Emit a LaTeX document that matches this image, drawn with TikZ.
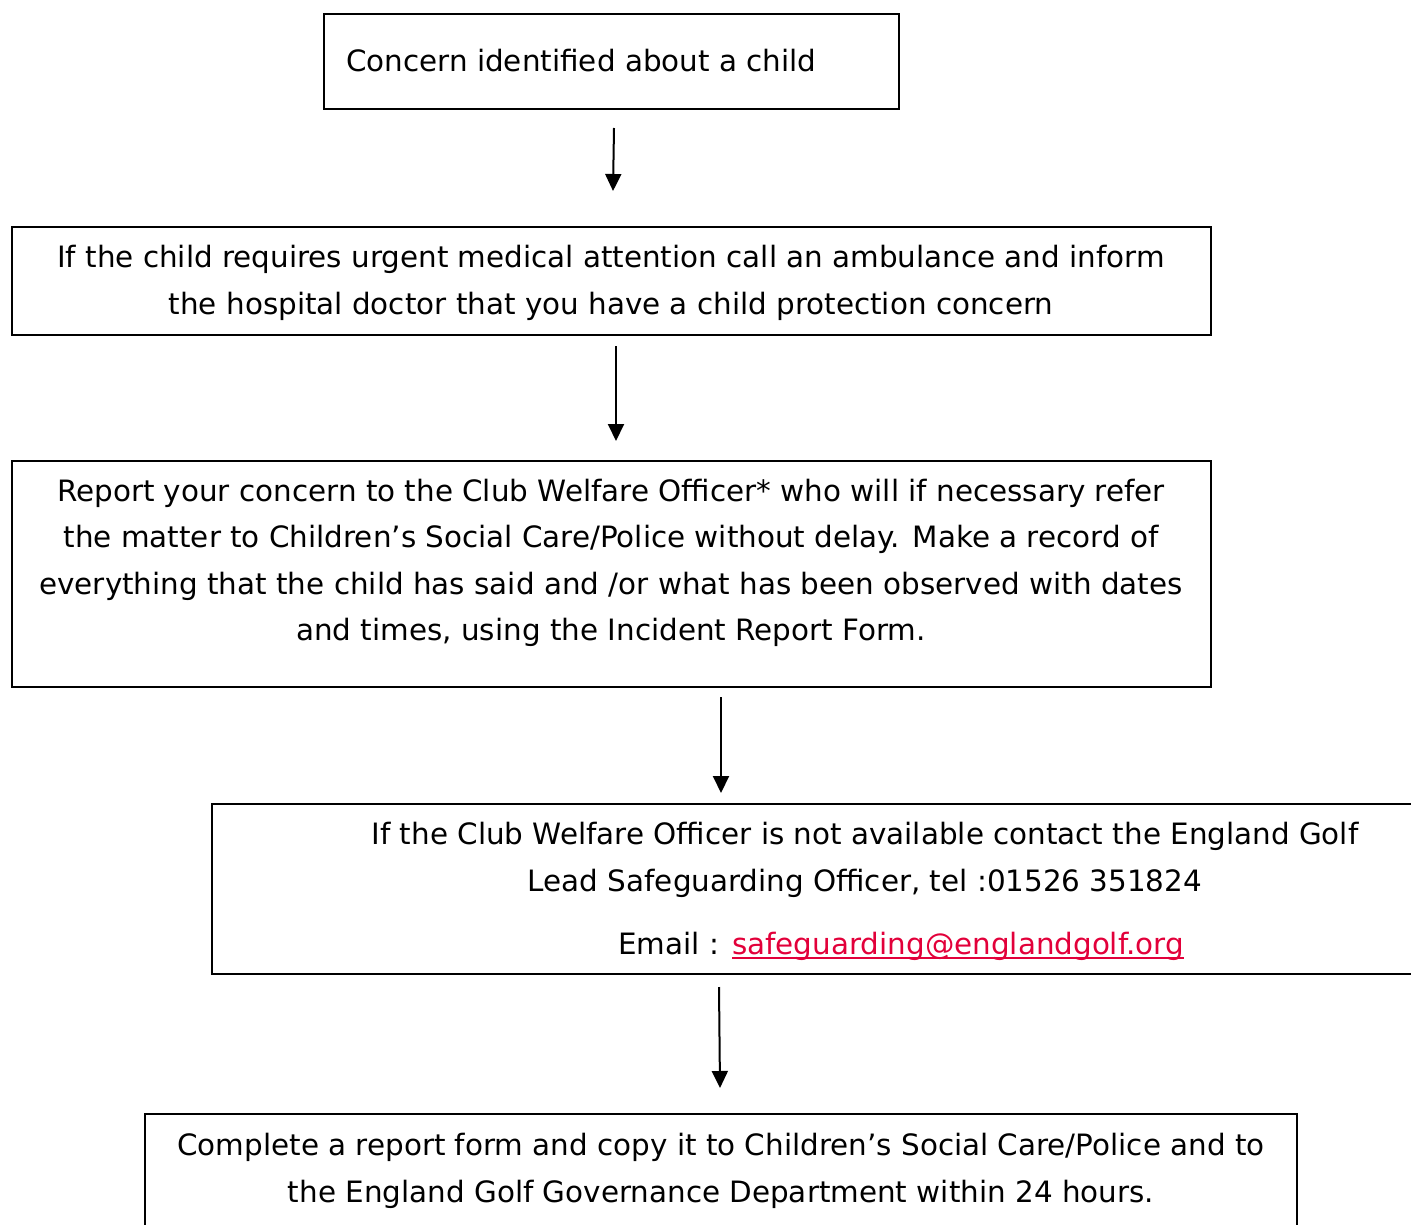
\documentclass[tikz,border=0pt]{standalone}
\usepackage{fontspec}
\setmainfont{DejaVu Sans}
\usetikzlibrary{arrows.meta}
\definecolor{linkred}{RGB}{226,0,58}
\begin{document}
\begin{tikzpicture}[x=1pt,y=-1pt,
  box/.style={draw,line width=2.3pt,rectangle,inner sep=0pt},
  txt/.style={inner sep=0pt,align=center,font=\fontsize{29.4}{46.5}\selectfont},
  arr/.style={line width=2pt,-{Triangle[length=17pt,width=16pt]}}]
\useasboundingbox (0,0) rectangle (1411,1225);
\clip (0,0) rectangle (1411,1225);
% boxes
\node[box,minimum width=575pt,minimum height=95pt] (b1) at (611.5,61.5) {};
\node[box,minimum width=1199pt,minimum height=108pt] (b2) at (611.5,281) {};
\node[box,minimum width=1199pt,minimum height=226pt] (b3) at (611.5,574) {};
\node[box,minimum width=1218pt,minimum height=170pt] (b4) at (821,889) {};
\node[box,minimum width=1152pt,minimum height=136pt] (b5) at (721,1182) {};
% texts
\node[txt,anchor=base west] (t1) at (346,72) {Concern identified about a child};
\node[txt] (t2) at (611,283) {If the child requires urgent medical attention call an ambulance and inform\\the hospital doctor that you have a child protection concern};
\node[txt] (t3) at (611,563) {Report your concern to the Club Welfare Officer* who will if necessary refer\\the matter to Children’s Social Care/Police without delay. Make a record of\\everything that the child has said and /or what has been observed with dates\\and times, using the Incident Report Form.};
\node[txt] (t4) at (865,860) {If the Club Welfare Officer is not available contact the England Golf\\Lead Safeguarding Officer, tel :01526 351824};
\node[txt,anchor=base west] (t4b) at (618,954) {Email :};
\node[txt,anchor=base west,text=linkred] (lnk) at (732,954) {safeguarding@englandgolf.org};
\draw[linkred,line width=2pt] ([yshift=-4pt]lnk.base west) -- ([yshift=-4pt]lnk.base east);
\node[txt] (t5) at (721,1171) {Complete a report form and copy it to Children’s Social Care/Police and to\\the England Golf Governance Department within 24 hours.};
% connectors
\coordinate (a1s) at (614,128); \coordinate (a1e) at (613,191);
\coordinate (a2s) at (616,346); \coordinate (a2e) at (616,441);
\coordinate (a3s) at (721,697); \coordinate (a3e) at (721,793);
\coordinate (a4s) at (719,987); \coordinate (a4e) at (720,1088);
\draw[arr] (a1s) -- (a1e);
\draw[arr] (a2s) -- (a2e);
\draw[arr] (a3s) -- (a3e);
\draw[arr] (a4s) -- (a4e);
\end{tikzpicture}
\end{document}
